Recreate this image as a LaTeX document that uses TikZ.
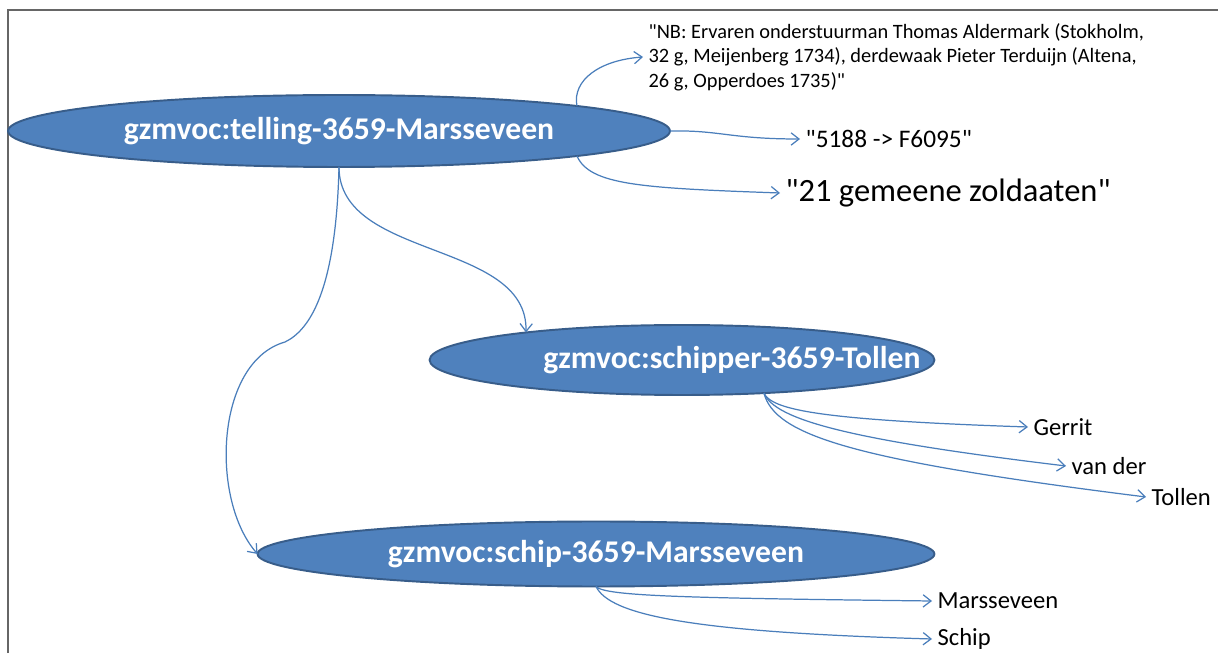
\documentclass[tikz,border=0pt]{standalone}
\usepackage{fontspec}
\setmainfont{Carlito}
\usepackage{xcolor}
\usepackage{tikz}
\usetikzlibrary{positioning,shapes.geometric,arrows.meta}

\definecolor{ovalfill}{HTML}{4F81BD}
\definecolor{ovalline}{HTML}{385D8A}
\definecolor{linkblue}{HTML}{4A7EBB}
\newcommand{\ovaltext}[2][0pt]{\makebox[0pt]{\hspace*{#1}#2}}
\newcommand{\qt}{\textquotedbl}

\begin{document}
\begin{tikzpicture}[x=0.02cm, y=0.02cm]
    \tikzstyle{oval} = [ellipse, draw=ovalline, fill=ovalfill, line width=1.1pt, text=white, font=\fontsize{18}{21}\selectfont\bfseries, inner sep=0pt, outer sep=0pt]
    \tikzstyle{lit} = [anchor=west, inner sep=0pt, inner xsep=3pt, text=black, font=\fontsize{14}{17}\selectfont]
    \tikzstyle{link} = [draw=linkblue, line width=0.7pt, -{Straight Barb[length=4.5pt,width=7pt]}]

    \useasboundingbox (0,0) rectangle (1218,653);
    \draw [black!60, line width=1.2pt] (8,0) -- (8,643) -- (1218,643);

    \node [oval, minimum width=13.24cm, minimum height=1.44cm] (tel) at (339,522) {\ovaltext{gzmvoc:telling-3659-Marsseveen}};
    \node [oval, minimum width=10.1cm, minimum height=1.4cm] (schipper) at (682,293) {\ovaltext[2cm]{gzmvoc:schipper-3659-Tollen}};
    \node [oval, minimum width=13.54cm, minimum height=1.3cm] (schip) at (596,99) {\ovaltext{gzmvoc:schip-3659-Marsseveen}};

    \node [lit, font=\fontsize{11.6}{13.9}\selectfont, align=left] (nb) at (643,596) {\qt NB: Ervaren onderstuurman Thomas Aldermark (Stokholm,\\32 g, Meijenberg 1734), derdewaak Pieter Terduijn (Altena,\\26 g, Opperdoes 1735)\qt};
    \node [lit, font=\fontsize{14.4}{17}\selectfont] (nr) at (800,514) {\qt 5188 -> F6095\qt};
    \node [lit, font=\fontsize{18.5}{22}\selectfont] (zold) at (780,460) {\qt 21 gemeene zoldaaten\qt};

    \node [lit] (gerrit) at (1028,226) {Gerrit};
    \node [lit] (vander) at (1066,187) {van der};
    \node [lit] (tollen) at (1146,156) {Tollen};

    \node [lit] (mars) at (932,52) {Marsseveen};
    \node [lit] (schipnm) at (932,14) {Schip};

    \draw [link] (tel.6) .. controls (572,573) and (600,593) .. (nb.west);
    \draw [link] (tel.east) .. controls (720,523) and (730,514) .. (nr.west);
    \draw [link] (tel.-6) .. controls (590,468) and (640,465) .. (zold.west);
    \draw [link] (tel.south) .. controls (339,393) and (528,413) .. (schipper.170);
    \draw [link] (tel.south) .. controls (336,363) and (310,323) .. (285,311) .. controls (215,291) and (210,153) .. (schip.west);

    \draw [link] (schipper.-22) .. controls (772,243) and (820,233) .. (gerrit.west);
    \draw [link] (schipper.-22) .. controls (775,233) and (850,213) .. (vander.west);
    \draw [link] (schipper.-22) .. controls (775,218) and (850,193) .. (tollen.west);

    \draw [link] (schip.south) .. controls (605,57) and (680,55) .. (mars.west);
    \draw [link] (schip.south) .. controls (610,38) and (690,21) .. (schipnm.west);
\end{tikzpicture}
\end{document}
